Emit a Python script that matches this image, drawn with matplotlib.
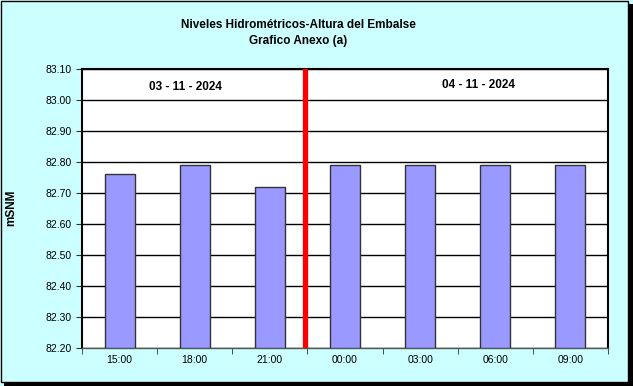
import matplotlib.pyplot as plt
from matplotlib.patches import Rectangle
import numpy as np

plt.rcParams['font.family'] = ['Liberation Sans', 'DejaVu Sans']

horas = ["15:00", "18:00", "21:00", "00:00", "03:00", "06:00", "09:00"]
niveles = [82.76, 82.79, 82.72, 82.79, 82.79, 82.79, 82.79]
fechas = ["03 - 11 - 2024", "04 - 11 - 2024"]
y_ticks = [82.20, 82.30, 82.40, 82.50, 82.60, 82.70, 82.80, 82.90, 83.00, 83.10]

fig = plt.figure(figsize=(6.33, 3.86), dpi=100)
fig.patch.set_facecolor("#CCFFFF")

# chart frame with shadow
fig.patches.append(Rectangle((4 / 633, 0), 629 / 633, 382 / 386, transform=fig.transFigure,
                             facecolor="black", edgecolor="none", zorder=0))
fig.patches.append(Rectangle((0.5 / 633, 4 / 386), 627 / 633, 381 / 386, transform=fig.transFigure,
                             facecolor="#CCFFFF", edgecolor="black", linewidth=1, zorder=1))

ax = fig.add_axes([82 / 633, 38 / 386, 526 / 633, 279 / 386])
ax.set_facecolor("white")
ax.set_zorder(2)

x = np.arange(len(horas))
base = y_ticks[0]
ax.bar(x, np.array(niveles) - base, bottom=base, width=0.4,
       color="#9999FF", edgecolor="#333333", linewidth=1, zorder=3)

ax.set_xlim(-0.5, len(horas) - 0.5)
ax.set_ylim(y_ticks[0], y_ticks[-1])
ax.set_yticks(y_ticks)
ax.set_yticklabels([f"{v:.2f}" for v in y_ticks], fontsize=7.5)
ax.yaxis.grid(True, color="black", linewidth=1)
ax.set_axisbelow(True)

ax.set_xticks(x)
ax.set_xticklabels(horas, fontsize=7.5)
ax.tick_params(axis="x", length=0, pad=5)
ax.set_xticks(np.arange(-0.5, len(horas)), minor=True)
ax.tick_params(axis="x", which="minor", length=4, color="#333333")
ax.tick_params(axis="y", length=4, color="#333333")

for s in ax.spines.values():
    s.set_color("black")
    s.set_linewidth(1.5)
ax.spines["bottom"].set_color("#555555")
ax.spines["bottom"].set_linewidth(1)

# day separator
ax.axvline(2.47, color="red", linewidth=3.8, zorder=4)

ax.text(0.196, 0.935, fechas[0], transform=ax.transAxes,
        ha="center", va="center", fontsize=8.5, fontweight="bold")
ax.text(0.753, 0.943, fechas[1], transform=ax.transAxes,
        ha="center", va="center", fontsize=8.5, fontweight="bold")

fig.text(298 / 633, 1 - 25 / 386, "Niveles Hidrométricos-Altura del Embalse",
         ha="center", va="center", fontsize=8.5, fontweight="bold")
fig.text(298 / 633, 1 - 41 / 386, "Grafico Anexo (a)",
         ha="center", va="center", fontsize=8.5, fontweight="bold")
fig.text(11 / 633, 1 - 208 / 386, "mSNM", rotation=90,
         ha="center", va="center", fontsize=8.5, fontweight="bold")

fig.savefig("out.png", dpi=100, facecolor=fig.get_facecolor())
